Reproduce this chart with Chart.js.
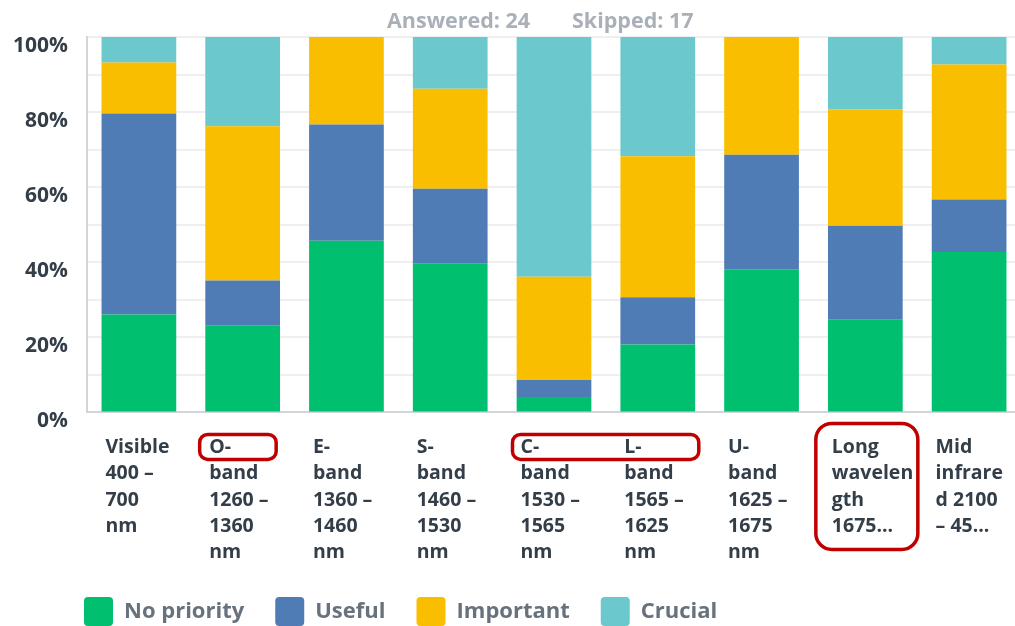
<!DOCTYPE html>
<html>
<head>
<meta charset="utf-8">
<title>Wavelength band priority</title>
<script src="https://cdn.jsdelivr.net/npm/chart.js@4.4.1/dist/chart.umd.min.js"></script>
<style>
  html, body { margin: 0; padding: 0; background: #fff; overflow: hidden; }
  #wrap { width: 1030px; height: 636px; }
</style>
</head>
<body>
<div id="wrap"><canvas id="BandChart"></canvas></div>
<script>
const answered = 24;
const skipped = 17;

const bands = [
    ['Visible', '400 –', '700', 'nm'],
    ['O-', 'band', '1260 –', '1360', 'nm'],
    ['E-', 'band', '1360 –', '1460', 'nm'],
    ['S-', 'band', '1460 –', '1530', 'nm'],
    ['C-', 'band', '1530 –', '1565', 'nm'],
    ['L-', 'band', '1565 –', '1625', 'nm'],
    ['U-', 'band', '1625 –', '1675', 'nm'],
    ['Long', 'wavelen', 'gth', '1675...'],
    ['Mid', 'infrare', 'd 2100', '– 45...']
];

// share of answers per band, in percent
const noPriority = [26.1, 23.1, 45.7, 39.6, 4.1, 18.1, 38.1, 24.7, 42.7];
const useful     = [53.5, 12.0, 31.0, 20.0, 4.5, 12.6, 30.5, 25.0, 14.0];
const important  = [13.6, 41.1, 23.3, 26.6, 27.5, 37.5, 31.4, 31.0, 36.0];
const crucial    = [6.8, 23.8, 0, 13.8, 63.9, 31.8, 0, 19.3, 7.3];

const yTicks = [0, 20, 40, 60, 80, 100];

// red outlines drawn around some of the axis labels
const highlights = [
    { from: 1, to: 1, dl: -43, dr: 33.5, top: 22, bottom: 47, radius: 8 },
    { from: 4, to: 5, dl: -41.5, dr: 41, top: 22, bottom: 47, radius: 8 },
    { from: 7, to: 7, dl: -49.5, dr: 52.5, top: 11, bottom: 137, radius: 16 }
];

const FONT = "'Open Sans', sans-serif";
Chart.defaults.font.family = FONT;

const headerNote = {
    id: 'headerNote',
    afterDraw(chart) {
        const ctx = chart.ctx;
        const mid = (chart.chartArea.left + chart.chartArea.right) / 2;
        ctx.save();
        ctx.font = 'bold 21.5px ' + FONT;
        ctx.fillStyle = '#a9b0b7';
        ctx.textBaseline = 'alphabetic';
        ctx.fillText('Answered: ' + answered, mid - 167, 28);
        ctx.fillText('Skipped: ' + skipped, mid + 18, 28);
        ctx.restore();
    }
};

const labelOutlines = {
    id: 'labelOutlines',
    afterDraw(chart) {
        const ctx = chart.ctx;
        const x = chart.scales.x;
        const base = chart.chartArea.bottom;
        ctx.save();
        ctx.strokeStyle = '#c00000';
        ctx.lineWidth = 3.5;
        highlights.forEach(h => {
            const l = x.getPixelForValue(h.from) + h.dl;
            const r = x.getPixelForValue(h.to) + h.dr;
            ctx.beginPath();
            ctx.roundRect(l, base + h.top, r - l, h.bottom - h.top, h.radius);
            ctx.stroke();
        });
        ctx.restore();
    }
};

// line the legend up under the plot instead of the canvas edge
const legendShift = {
    id: 'legendShift',
    afterLayout(chart) {
        const lg = chart.legend;
        const pad = lg.options.labels.padding;
        lg.left = chart.chartArea.left - 3 - pad;
    }
};

const ctx = document.getElementById('BandChart').getContext('2d');
const bandChart = new Chart(ctx, {
    type: 'bar',
    data: {
        labels: bands,
        datasets: [
            { label: 'No priority', data: noPriority, backgroundColor: '#00bf6f' },
            { label: 'Useful', data: useful, backgroundColor: '#507cb6' },
            { label: 'Important', data: important, backgroundColor: '#f9be00' },
            { label: 'Crucial', data: crucial, backgroundColor: '#6bc8cd' }
        ]
    },
    options: {
        responsive: true,
        maintainAspectRatio: false,
        animation: false,
        datasets: {
            bar: { barPercentage: 0.72, categoryPercentage: 1, borderWidth: 0 }
        },
        layout: { padding: { top: 37, left: 13, right: 9, bottom: 0 } },
        plugins: {
            tooltip: { enabled: false },
            legend: {
                position: 'bottom',
                align: 'start',
                labels: {
                    boxWidth: 29,
                    boxHeight: 29,
                    padding: 31,
                    useBorderRadius: true,
                    borderRadius: 4,
                    color: '#67727c',
                    font: { size: 22, weight: 'bold' }
                }
            }
        },
        scales: {
            x: {
                stacked: true,
                grid: { display: false, drawTicks: false },
                border: { color: '#d3d6d8', width: 2 },
                ticks: {
                    align: 'start',
                    labelOffset: -33.5,
                    padding: 22,
                    maxRotation: 0,
                    autoSkip: false,
                    color: '#333e48',
                    font: { size: 19.5, weight: 'bold', lineHeight: 1.35 }
                },
                // padding is only wanted above the labels
                afterFit(s) {
                    s.height -= 22;
                    s.paddingRight = 0;
                }
            },
            y: {
                stacked: true,
                min: 0,
                max: 100,
                grid: { color: '#efefef', lineWidth: 2, drawTicks: false },
                border: { color: '#d3d6d8', width: 2 },
                ticks: {
                    stepSize: 10,
                    padding: 19,
                    labelOffset: 9,
                    color: '#333e48',
                    font: { size: 21, weight: 'bold' },
                    callback: v => yTicks.includes(v) ? v + '%' : ''
                },
                afterFit(s) {
                    s.width = 74;
                }
            }
        }
    },
    plugins: [headerNote, labelOutlines, legendShift]
});
</script>
</body>
</html>
